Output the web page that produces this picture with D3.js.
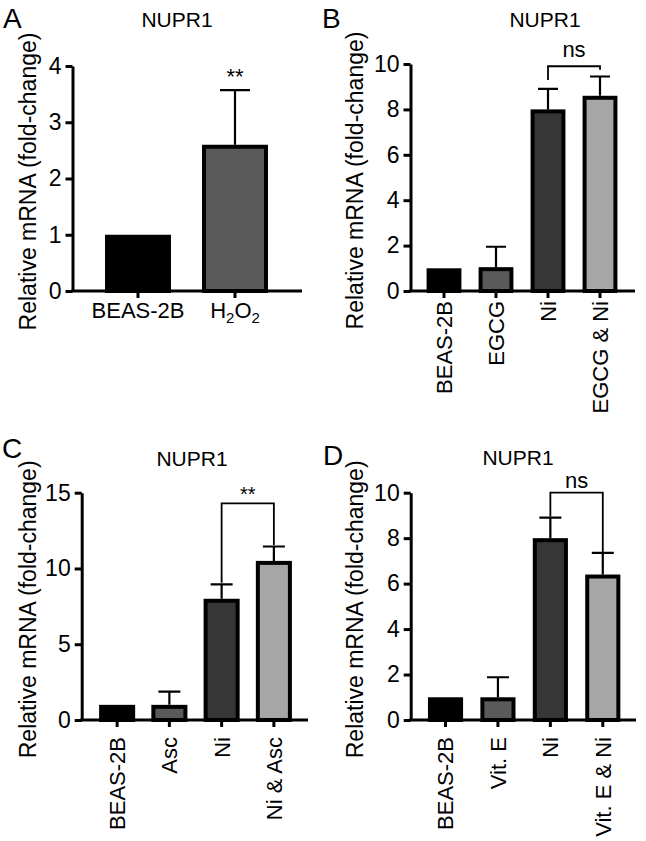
<!DOCTYPE html>
<html><head><meta charset="utf-8">
<script src="https://cdn.jsdelivr.net/npm/d3@7"></script>
<style>
body{margin:0;background:#fff}
text{font-family:"Liberation Sans",Arial,Helvetica,sans-serif;fill:#000}
</style>
</head><body>
<svg id="c" width="646" height="841"></svg>
<script>
// ---------- data ----------
const catsA = ["BEAS-2B", "H2O2"];
const meanA = [1.0, 2.6];
const errA  = [0, 0.97];
const ticksA = [0, 1, 2, 3, 4];

const catsB = ["BEAS-2B", "EGCG", "Ni", "EGCG & Ni"];
const meanB = [1.0, 1.05, 8.0, 8.6];
const errB  = [0, 0.9, 0.9, 0.85];
const ticksB = [0, 2, 4, 6, 8, 10];

const catsC = ["BEAS-2B", "Asc", "Ni", "Ni & Asc"];
const meanC = [1.0, 1.0, 8.0, 10.5];
const errC  = [0, 0.87, 0.95, 0.95];
const ticksC = [0, 5, 10, 15];

const catsD = ["BEAS-2B", "Vit. E", "Ni", "Vit. E & Ni"];
const meanD = [1.0, 1.0, 8.0, 6.4];
const errD  = [0, 0.88, 0.9, 0.95];
const ticksD = [0, 2, 4, 6, 8, 10];

// significance annotations: [from, to, bracketTop, fromLegEnd, toLegEnd, label]
const sigA = {cat: "H2O2", level: 3.6, label: "**"};
const sigB = ["Ni", "EGCG & Ni", 9.9, 9.3, 9.75, "ns"];
const sigC = ["Ni", "Ni & Asc", 14.3, 9.05, 11.55, "**"];
const sigD = ["Ni", "Vit. E & Ni", 10.0, 8.95, 7.35, "ns"];

const colorsA = ["#000000", "#5a5a5a"];
const colors4 = ["#000000", "#5a5a5a", "#363636", "#a6a6a6"];
const titleText = "NUPR1";
const yLabelText = "Relative mRNA (fold-change)";

// ---------- drawing ----------
const svg = d3.select("#c");
const FONT = 22;
const TICKFONT = 23;

function panel(cfg) {
  const g = svg.append("g");
  const y = d3.scaleLinear().domain([0, d3.max(cfg.ticks)]).range([cfg.y0, cfg.y1]);
  const x = d3.scaleBand().domain(cfg.cats).range(cfg.xr)
    .paddingInner(cfg.pad).paddingOuter(cfg.pad / 2);
  const bw = x.bandwidth();
  const sw = 4;

  // bars
  g.selectAll("rect.bar").data(cfg.cats).join("rect")
    .attr("class", "bar")
    .attr("x", d => x(d) + sw / 2)
    .attr("width", bw - sw)
    .attr("y", (d, i) => y(cfg.mean[i]) + sw / 2)
    .attr("height", (d, i) => y(0) - y(cfg.mean[i]) - sw / 2)
    .attr("fill", (d, i) => cfg.colors[i])
    .attr("stroke", "#000").attr("stroke-width", sw);

  // error bars (upper only)
  const cap = cfg.cap;
  g.selectAll("path.err").data(cfg.cats.filter((d, i) => cfg.err[i] > 0)).join("path")
    .attr("class", "err")
    .attr("d", d => {
      const i = cfg.cats.indexOf(d);
      const cx = x(d) + bw / 2;
      const yt = y(cfg.mean[i] + cfg.err[i]);
      return `M${cx},${y(cfg.mean[i])}V${yt}M${cx - cap / 2},${yt}H${cx + cap / 2}`;
    })
    .attr("fill", "none").attr("stroke", "#000").attr("stroke-width", 2.2);

  // y axis
  const ya = g.append("g").attr("transform", `translate(${cfg.ax},0)`)
    .call(d3.axisLeft(y).tickValues(cfg.ticks).tickFormat(d3.format("d"))
      .tickSize(7).tickSizeOuter(0).tickPadding(cfg.tickPad));
  ya.select(".domain").attr("stroke", "#000").attr("stroke-width", 3);
  ya.selectAll(".tick line").attr("stroke", "#000").attr("stroke-width", 3);
  ya.selectAll(".tick text").attr("font-size", TICKFONT).attr("font-family", null).attr("fill", "#000");

  // x axis
  g.append("line").attr("x1", cfg.ax - 1.5).attr("x2", cfg.xEnd).attr("y1", cfg.y0).attr("y2", cfg.y0)
    .attr("stroke", "#000").attr("stroke-width", 3);
  const xa = g.append("g").attr("transform", `translate(0,${cfg.y0})`)
    .call(d3.axisBottom(x).tickSize(7).tickSizeOuter(0));
  xa.select(".domain").remove();
  xa.selectAll(".tick line").attr("stroke", "#000").attr("stroke-width", 3);
  xa.selectAll(".tick text").attr("font-size", FONT).attr("font-family", null).attr("fill", "#000");
  if (cfg.rotate) {
    xa.selectAll(".tick text")
      .attr("text-anchor", "end")
      .attr("dy", null).attr("y", null)
      .attr("transform", `translate(${0.36 * FONT},${cfg.labGap}) rotate(-90)`);
  } else {
    xa.selectAll(".tick text").attr("y", cfg.labGap).attr("dy", "0.71em")
      .each(function (d) {
        if (d === "H2O2") {
          const t = d3.select(this).text(null);
          t.append("tspan").text("H");
          t.append("tspan").text("2").attr("font-size", 15).attr("dy", 5);
          t.append("tspan").text("O").attr("dy", -5);
          t.append("tspan").text("2").attr("font-size", 15).attr("dy", 5);
        }
      });
  }

  // title, panel letter, y label
  g.append("text").attr("x", cfg.title[0]).attr("y", cfg.title[1])
    .attr("text-anchor", "middle").attr("font-size", 21).text(titleText);
  g.append("text").attr("x", cfg.letter[0]).attr("y", cfg.letter[1])
    .attr("font-size", 28).text(cfg.letterText);
  g.append("text").attr("transform", `translate(${cfg.ylab},${(cfg.y0 + cfg.y1) / 2 + 3}) rotate(-90)`)
    .attr("text-anchor", "middle").attr("font-size", 23).text(yLabelText);

  // significance
  if (cfg.sig) {
    const [a, b, top, ea, eb, lab] = cfg.sig;
    const xa_ = x(a) + bw / 2, xb_ = x(b) + bw / 2;
    g.append("path")
      .attr("d", `M${xa_},${y(ea)}V${y(top)}H${xb_}V${y(eb)}`)
      .attr("fill", "none").attr("stroke", "#000").attr("stroke-width", 1.8);
    g.append("text").attr("x", (xa_ + xb_) / 2).attr("y", y(top) - cfg.sigGap)
      .attr("text-anchor", "middle").attr("font-size", cfg.sigSize).text(lab);
  }
  if (cfg.star) {
    g.append("text").attr("x", x(cfg.star.cat) + bw / 2).attr("y", y(cfg.star.level) - 5)
      .attr("text-anchor", "middle").attr("font-size", 22).text(cfg.star.label);
  }
}

panel({cats: catsA, mean: meanA, err: errA, ticks: ticksA, colors: colorsA,
  ax: 72.5, y0: 291, y1: 66, xr: [89.5, 283.5], pad: 0.32, xEnd: 302, cap: 30,
  tickPad: 4, labGap: 11, rotate: false, title: [177, 27], letter: [3, 28], letterText: "A",
  ylab: 36, star: sigA});

panel({cats: catsB, mean: meanB, err: errB, ticks: ticksB, colors: colors4,
  ax: 410.5, y0: 291, y1: 64, xr: [418, 626], pad: 0.33, xEnd: 635, cap: 20,
  tickPad: 4, labGap: 10, rotate: true, title: [545, 27], letter: [322, 28], letterText: "B",
  ylab: 363, sig: sigB, sigGap: 9, sigSize: 22});

panel({cats: catsC, mean: meanC, err: errC, ticks: ticksC, colors: colors4,
  ax: 81.7, y0: 720, y1: 492.7, xr: [91, 300], pad: 0.31, xEnd: 308, cap: 22,
  tickPad: 4, labGap: 17, rotate: true, title: [192, 466], letter: [2, 458], letterText: "C",
  ylab: 36, sig: sigC, sigGap: 2, sigSize: 20});

panel({cats: catsD, mean: meanD, err: errD, ticks: ticksD, colors: colors4,
  ax: 410.7, y0: 720, y1: 492.7, xr: [419.3, 629], pad: 0.33, xEnd: 636, cap: 22,
  tickPad: 4, labGap: 17, rotate: true, title: [518, 465], letter: [323, 465], letterText: "D",
  ylab: 363, sig: sigD, sigGap: 5, sigSize: 22});
</script>
</body></html>
